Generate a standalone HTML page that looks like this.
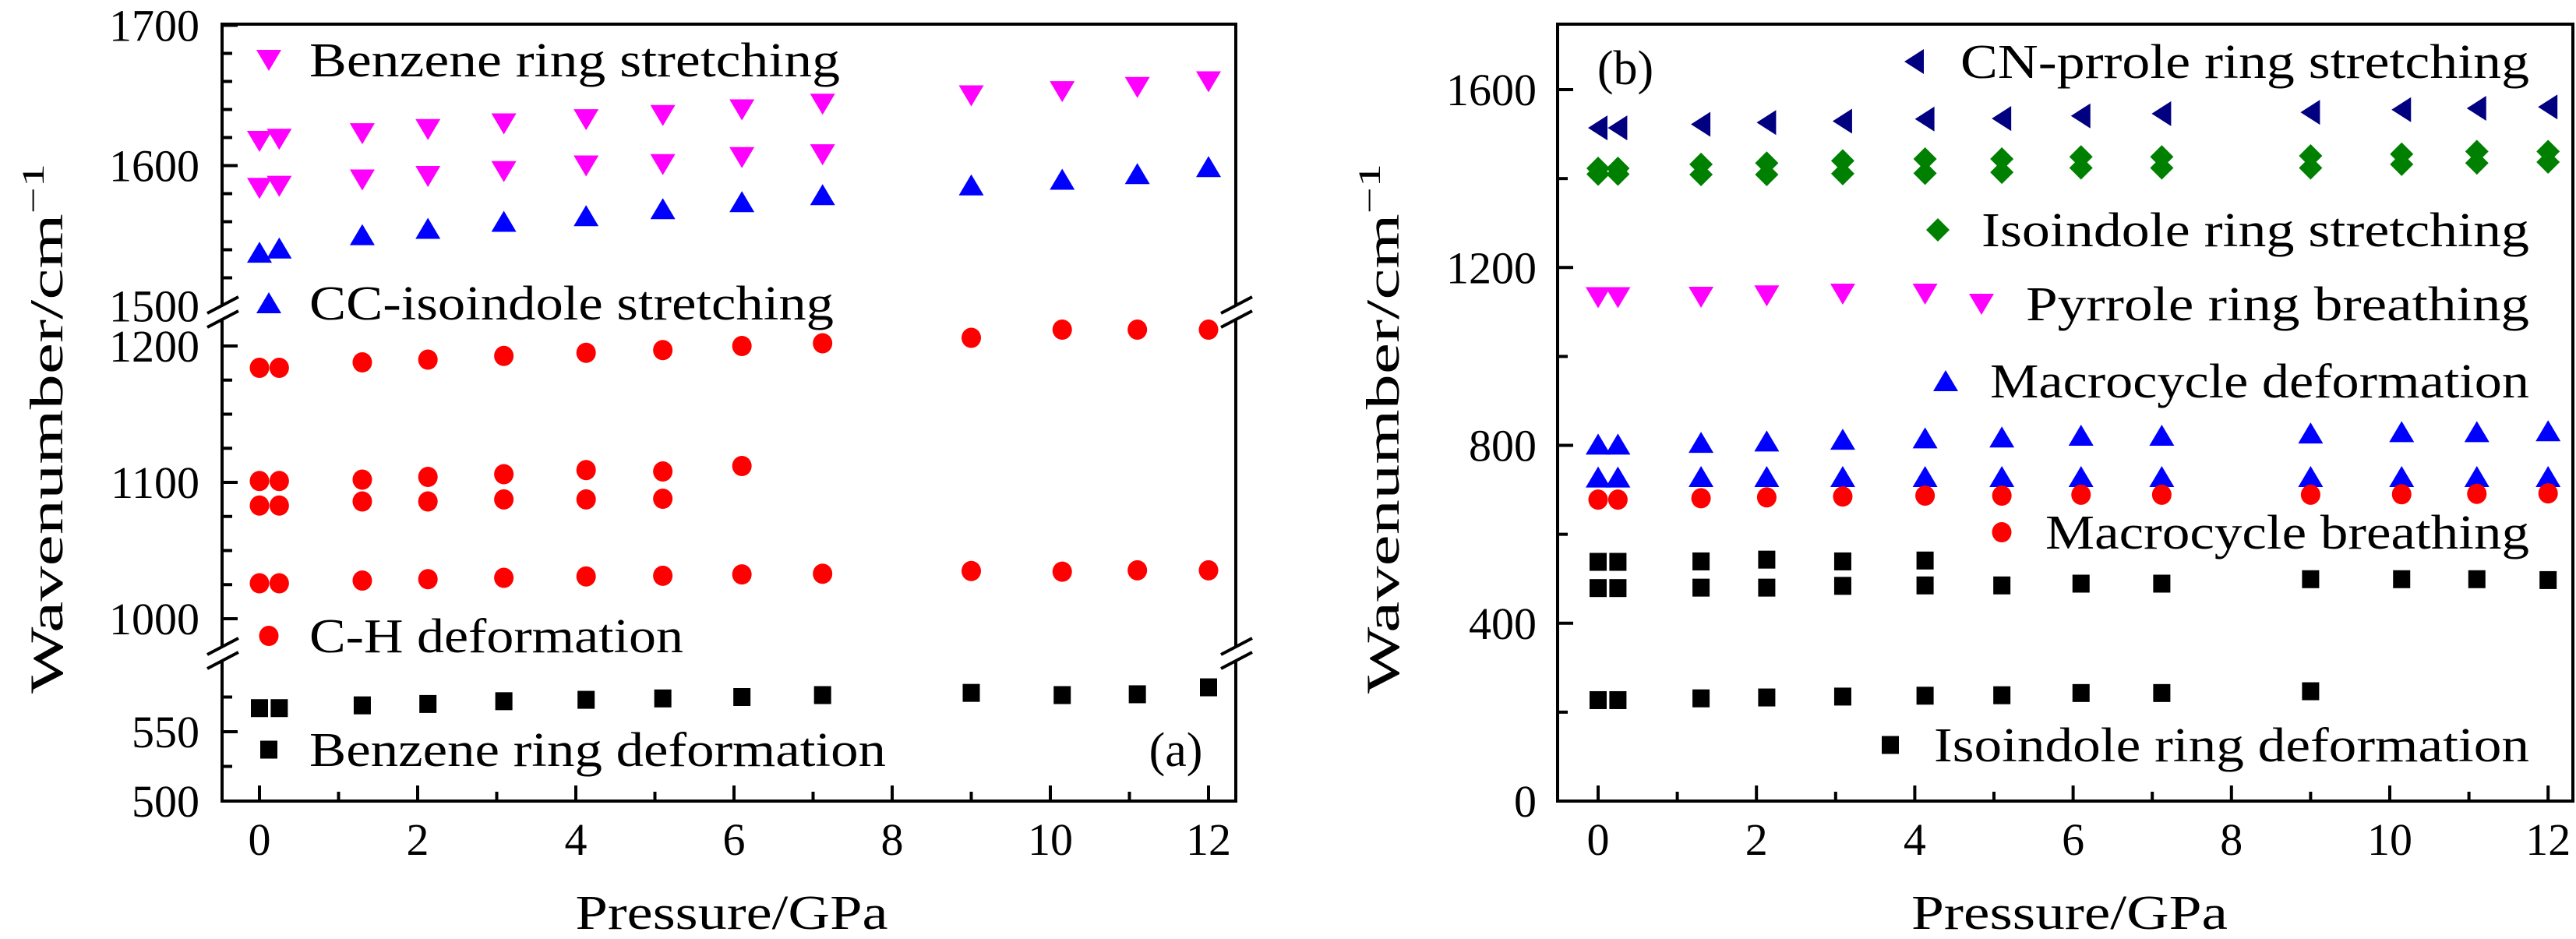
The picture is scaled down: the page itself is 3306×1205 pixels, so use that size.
<!DOCTYPE html>
<html><head><meta charset="utf-8"><style>
html,body{margin:0;padding:0;background:#fff;}
svg{display:block;font-family:"Liberation Serif",serif;}
</style></head><body>
<svg id="chart" width="3306" height="1205" viewBox="0 0 3306 1205" xmlns="http://www.w3.org/2000/svg">
<rect width="3306" height="1205" fill="#fff"/>
<g id="pa"></g>
<g id="pb"></g>
</svg>
<script>
// ---- data ----
const pressures = [0, 0.25, 1.3, 2.13, 3.09, 4.13, 5.1, 6.1, 7.12, 9.0, 10.15, 11.1, 12.0];
const xTicks = [0, 2, 4, 6, 8, 10, 12];
// panel (a)
const benzStretchA = [1617.5, 1619, 1623, 1626, 1630, 1633, 1636, 1640, 1644, 1650, 1653, 1656, 1660];
const benzStretchB = [1584, 1585.5, 1590, 1592.5, 1596, 1600, 1601, 1606, 1608, null, null, null, null];
const ccIsoindole = [1538, 1541, 1550.5, 1555, 1560, 1564, 1569, 1574, 1579, 1586, 1590, 1594, 1599];
const chDefA = [1184, 1184, 1188, 1190, 1192.7, 1195, 1197, 1200, 1202, 1206, 1212, 1212, 1212];
const chDefB = [1101, 1101, 1102, 1104, 1106, 1109, 1108, 1112, null, null, null, null, null];
const chDefC = [1083, 1083, 1086, 1086, 1087.5, 1087.5, 1088, null, null, null, null, null, null];
const chDefD = [1026, 1026, 1028, 1029, 1030, 1031, 1031.5, 1032.5, 1033, 1035, 1034.5, 1035.5, 1035.5];
const benzDef = [567, 567, 569, 570, 572, 573, 574, 575, 576.4, 578, 576.4, 577, 582];
const yTicksA = [1700, 1600, 1500, 1200, 1100, 1000, 550, 500];
// panel (b)
const cnPyrrole = [1514, 1514, 1522, 1526, 1529, 1534, 1535, 1541, 1546, 1549, 1555, 1558, 1561];
const isoStretchA = [1423, 1423, 1432, 1435, 1440, 1444, 1444, 1449, 1449, 1451, 1455, 1461, 1461];
const isoStretchB = [1410, 1410, 1409, 1409, 1411, 1412, 1414, 1424, 1424, 1424, 1432, 1435, 1437];
const pyrBreath = [1133, 1133, 1134, 1137, 1141, 1141, null, null, null, null, null, null, null];
const macDefA = [802, 802, 806, 809, 813, 816, 818, 822, 822, 827, 830, 830, 832];
const macDefB = [728, 728, 729, 729, 729, 729, 729, 729, 729, 729, 729, 729, 729];
const macBreath = [678, 678, 681, 683, 685, 687, 687, 689, 689, 689, 690, 691, 692];
const isoDefA = [538, 538, 539, 543, 539, 541, null, null, null, null, null, null, null];
const isoDefB = [479, 479, 480, 480, 484, 485, 485, 489, 489, 499, 499, 499, 497];
const isoDefC = [227, 227, 231, 233, 235, 237, 238, 243, 243, 247, null, null, null];
const yTicksB = [0, 400, 800, 1200, 1600];

const NS = 'http://www.w3.org/2000/svg';
function mk(tag, attrs, parent) {
  const e = document.createElementNS(NS, tag);
  for (const k in attrs) e.setAttribute(k, attrs[k]);
  parent.appendChild(e);
  return e;
}
// axis functions
const xA = p => 333 + p * 101.5;
const xB = p => 2051 + p * 101.6;
function yA(v) {
  if (v >= 1450) return 32.5 + (1700 - v) * 1.8;
  if (v >= 900) return 444 + (1200 - v) * 1.75;
  return 1028 - (v - 500) * 1.78;
}
const yB = v => 1028 - v * 0.5706;

function marker(g, type, cx, cy, color, name) {
  let e;
  if (type === 'down') e = mk('polygon', {points: `${cx-16},${cy-13} ${cx+16},${cy-13} ${cx},${cy+14}`, fill: color}, g);
  else if (type === 'up') e = mk('polygon', {points: `${cx-16},${cy+13} ${cx+16},${cy+13} ${cx},${cy-14}`, fill: color}, g);
  else if (type === 'left') e = mk('polygon', {points: `${cx+12},${cy-16} ${cx+12},${cy+16} ${cx-13},${cy}`, fill: color}, g);
  else if (type === 'circle') e = mk('ellipse', {cx: cx, cy: cy, rx: 12.5, ry: 13, fill: color}, g);
  else if (type === 'square') e = mk('rect', {x: cx-11, y: cy-11.5, width: 22, height: 23, fill: color}, g);
  else if (type === 'diamond') e = mk('polygon', {points: `${cx-15},${cy} ${cx},${cy-15} ${cx+15},${cy} ${cx},${cy+15}`, fill: color}, g);
  
  
  return e;
}
function series(g, vals, xf, yf, type, color, name) {
  const sg = mk('g', {}, g);
  
  
  vals.forEach((v, i) => {
    if (v === null) return;
    marker(sg, type, xf(pressures[i]), yf(v), color, name + '-point');
  });
}
function text(g, x, y, str, size, anchor, name, len) {
  const t = mk('text', {x: x, y: y, 'font-size': size, 'text-anchor': anchor || 'start', fill: '#000'}, g);
  if (len) { t.setAttribute('textLength', len); t.setAttribute('lengthAdjust', 'spacingAndGlyphs'); }
  t.textContent = str;
  
  
  return t;
}
function legend(g, type, color, mx, my, tx, tend, str, name) {
  const lg = mk('g', {}, g);
  
  
  marker(lg, type, mx, my, color, name + '-marker');
  text(lg, tx, my + 21, str, 62, 'start', name + '-label', tend - tx);
}
function xAxis(g, xf, left, right, name) {
  mk('line', {x1: left, y1: 1028, x2: right, y2: 1028, stroke: '#000', 'stroke-width': 4}, g);
  for (let p = 0; p <= 12; p++) {
    const len = p % 2 === 0 ? 20 : 12;
    mk('line', {x1: xf(p), y1: 1028, x2: xf(p), y2: 1028 - len, stroke: '#000', 'stroke-width': 4}, g);
  }
  xTicks.forEach(t => text(g, xf(t), 1097, String(t), 58, 'middle', 'x-tick-label'));
}
function breakMark(g, x, yc) {
  mk('polygon', {points: `${x-22},${yc+11} ${x+22},${yc-14} ${x+22},${yc+3} ${x-22},${yc+28}`, fill: '#fff'}, g);
  mk('line', {x1: x-19, y1: yc+9, x2: x+21, y2: yc-12, stroke: '#000', 'stroke-width': 4}, g);
  mk('line', {x1: x-19, y1: yc+27, x2: x+21, y2: yc+6, stroke: '#000', 'stroke-width': 4}, g);
}
function yTitle(g, x, name) {
  const t = mk('text', {x: 0, y: 0, 'font-size': 60, 'text-anchor': 'middle', fill: '#000', textLength: 680, lengthAdjust: 'spacingAndGlyphs', transform: `translate(${x},550) rotate(-90)`}, g);
  t.innerHTML = 'Wavenumber/cm<tspan dy="-24" font-size="40">−1</tspan>';
  
  
}

// ---- panel (a) ----
const pa = document.getElementById('pa');
mk('rect', {x: 285, y: 31, width: 1301, height: 997, fill: 'none', stroke: '#000', 'stroke-width': 4}, pa);
xAxis(pa, xA, 283, 1588, 'x-axis-a');
[[1700,1500,20],[1200,1000,25],[575,500,25]].forEach(([hi, lo, st]) => {
  for (let v = hi; v >= lo; v -= st) {
    const major = yTicksA.includes(v);
    mk('line', {x1: 285, y1: yA(v), x2: 285 + (major ? 20 : 13), y2: yA(v), stroke: '#000', 'stroke-width': 4}, pa);
  }
});
yTicksA.forEach(v => text(pa, 256, yA(v) + 20, String(v), 58, 'end', 'y-tick-label'));
breakMark(pa, 285, 393);
breakMark(pa, 285, 831);
breakMark(pa, 1586, 393);
breakMark(pa, 1586, 831);
series(pa, benzStretchA, xA, yA, 'down', '#ff00ff', 'benzene-stretching-high');
series(pa, benzStretchB, xA, yA, 'down', '#ff00ff', 'benzene-stretching-low');
series(pa, ccIsoindole, xA, yA, 'up', '#0000ff', 'cc-isoindole');
series(pa, chDefA, xA, yA, 'circle', '#ff0000', 'ch-deformation-1');
series(pa, chDefB, xA, yA, 'circle', '#ff0000', 'ch-deformation-2');
series(pa, chDefC, xA, yA, 'circle', '#ff0000', 'ch-deformation-3');
series(pa, chDefD, xA, yA, 'circle', '#ff0000', 'ch-deformation-4');
series(pa, benzDef, xA, yA, 'square', '#000', 'benzene-deformation');
legend(pa, 'down', '#ff00ff', 345, 77, 397, 1078, 'Benzene ring stretching', 'legend-benzene-stretching');
legend(pa, 'up', '#0000ff', 345, 389, 397, 1070, 'CC-isoindole stretching', 'legend-cc-isoindole');
legend(pa, 'circle', '#ff0000', 345, 816, 397, 877, 'C-H deformation', 'legend-ch-deformation');
legend(pa, 'square', '#000', 345, 962, 397, 1137, 'Benzene ring deformation', 'legend-benzene-deformation');
text(pa, 1509, 983, '(a)', 62, 'middle', 'panel-a-label');
yTitle(pa, 80, 'y-axis-title-a');
text(pa, 939, 1192, 'Pressure/GPa', 62, 'middle', 'x-axis-title-a', 401);

// ---- panel (b) ----
const pb = document.getElementById('pb');
mk('rect', {x: 1999, y: 31, width: 1303, height: 997, fill: 'none', stroke: '#000', 'stroke-width': 4}, pb);
xAxis(pb, xB, 1997, 3304, 'x-axis-b');
for (let v = 0; v <= 1700; v += 200) {
  const major = yTicksB.includes(v);
  mk('line', {x1: 1999, y1: yB(v), x2: 1999 + (major ? 20 : 13), y2: yB(v), stroke: '#000', 'stroke-width': 4}, pb);
}
yTicksB.forEach(v => text(pb, 1972, yB(v) + 20, String(v), 58, 'end', 'y-tick-label'));
series(pb, cnPyrrole, xB, yB, 'left', '#000080', 'cn-pyrrole');
series(pb, isoStretchB, xB, yB, 'diamond', '#008000', 'isoindole-stretching-low');
series(pb, isoStretchA, xB, yB, 'diamond', '#008000', 'isoindole-stretching-high');
series(pb, pyrBreath, xB, yB, 'down', '#ff00ff', 'pyrrole-breathing');
series(pb, macDefA, xB, yB, 'up', '#0000ff', 'macrocycle-deformation-high');
series(pb, macDefB, xB, yB, 'up', '#0000ff', 'macrocycle-deformation-low');
series(pb, macBreath, xB, yB, 'circle', '#ff0000', 'macrocycle-breathing');
series(pb, isoDefA, xB, yB, 'square', '#000', 'isoindole-deformation-1');
series(pb, isoDefB, xB, yB, 'square', '#000', 'isoindole-deformation-2');
series(pb, isoDefC, xB, yB, 'square', '#000', 'isoindole-deformation-3');
legend(pb, 'left', '#000080', 2457, 79, 2516, 3246, 'CN-prrole ring stretching', 'legend-cn-pyrrole');
legend(pb, 'diamond', '#008000', 2487, 295, 2543, 3246, 'Isoindole ring stretching', 'legend-isoindole-stretching');
legend(pb, 'down', '#ff00ff', 2543, 390, 2600, 3246, 'Pyrrole ring breathing', 'legend-pyrrole-breathing');
legend(pb, 'up', '#0000ff', 2497, 489, 2554, 3246, 'Macrocycle deformation', 'legend-macrocycle-deformation');
legend(pb, 'circle', '#ff0000', 2569, 683, 2625, 3246, 'Macrocycle breathing', 'legend-macrocycle-breathing');
legend(pb, 'square', '#000', 2426, 956, 2482, 3246, 'Isoindole ring deformation', 'legend-isoindole-deformation');
text(pb, 2086, 108, '(b)', 62, 'middle', 'panel-b-label');
yTitle(pb, 1795, 'y-axis-title-b');
text(pb, 2656, 1192, 'Pressure/GPa', 62, 'middle', 'x-axis-title-b', 406);
</script>
</body></html>
